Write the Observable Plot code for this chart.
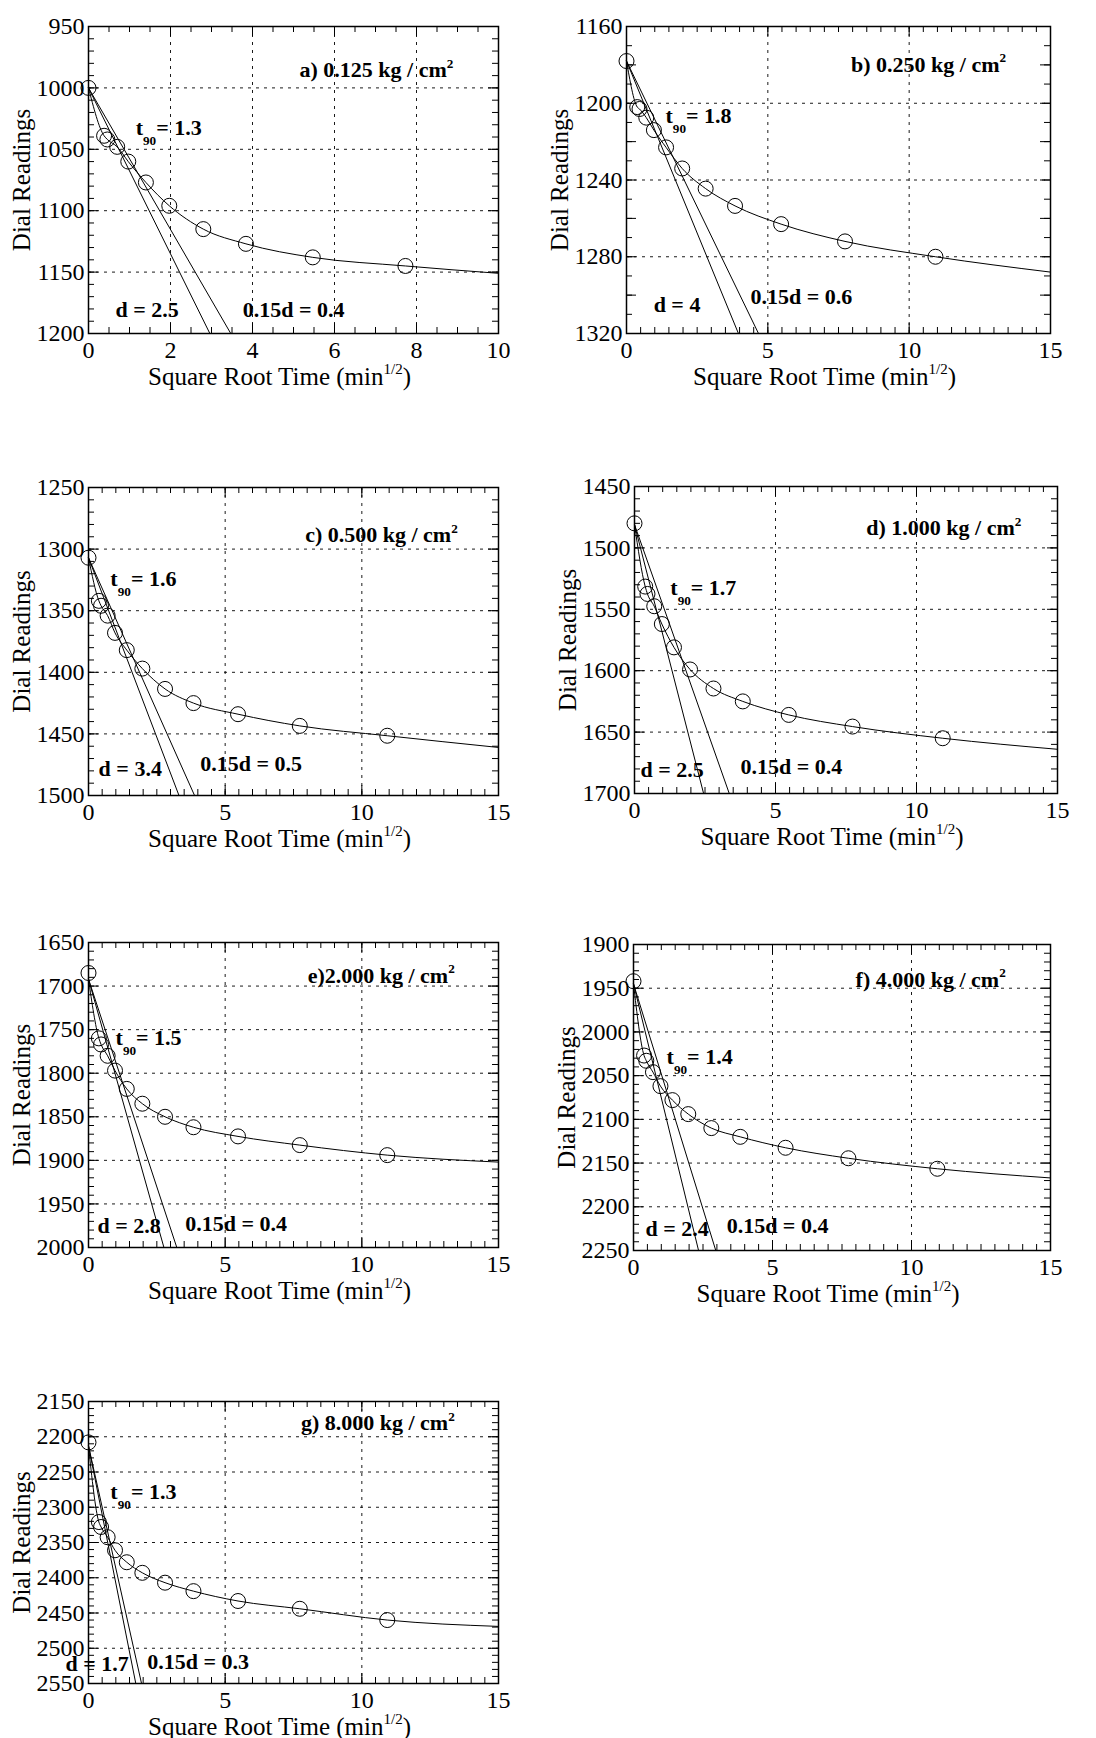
<!DOCTYPE html>
<html>
<head>
<meta charset="utf-8">
<script src="https://cdn.jsdelivr.net/npm/d3@7"></script>
<script src="https://cdn.jsdelivr.net/npm/@observablehq/plot@0.6"></script>
<style>
  body { margin: 0; background: #fff; }
  #sheet { position: relative; width: 1096px; height: 1738px; overflow: hidden; background: #fff; }
  #sheet svg { position: absolute; background: transparent; overflow: visible; }
</style>
</head>
<body>
<div id="sheet"></div>
<script>
// ---- Square-root-of-time consolidation readings, one panel per load step ----
const sqrtTime = [0, 0.38, 0.46, 0.7, 0.97, 1.4, 1.97, 2.8, 3.84, 5.47, 7.73, 10.93];

const readingsA = [1000, 1039, 1042, 1048, 1060, 1077, 1096, 1115, 1127, 1138, 1145];
const readingsB = [1178, 1202, 1203, 1207.5, 1214, 1223, 1234, 1244.5, 1253.5, 1263, 1272, 1280];
const readingsC = [1307, 1342, 1346, 1354, 1368, 1382, 1397, 1413.5, 1425, 1434, 1443.5, 1451.5];
const readingsD = [1480, 1531.5, 1537.5, 1547.5, 1562, 1581, 1599, 1614.5, 1625, 1636, 1645.5, 1655];
const readingsE = [1685, 1760, 1767, 1780, 1797, 1818, 1835, 1850, 1862, 1872.5, 1882.5, 1894];
const readingsF = [1942, 2027, 2033, 2046, 2062, 2078, 2094, 2110, 2120, 2132.5, 2144.5, 2156.5];
const readingsG = [2208, 2321, 2328, 2342.5, 2361, 2378, 2393, 2407, 2419, 2433, 2444, 2460];
const readingSets = [readingsA, readingsB, readingsC, readingsD, readingsE, readingsF, readingsG];

// panel captions
const panelTags = ["a)", "b)", "c)", "d)", "e)", "f)", "g)"];
const pressureLoad = ["0.125", "0.250", "0.500", "1.000", "2.000", "4.000", "8.000"];
const t90Value = ["1.3", "1.8", "1.6", "1.7", "1.5", "1.4", "1.3"];
const dValue = ["2.5", "4", "3.4", "2.5", "2.8", "2.4", "1.7"];
const dOffsetValue = ["0.4", "0.6", "0.5", "0.4", "0.4", "0.4", "0.3"];

// Taylor construction: corrected zero reading, and the sqrt-time where the
// initial tangent and the 1.15x line reach the bottom reading of each panel
const zeroReading = [1000, 1178, 1307, 1481, 1692, 1945, 2213];
const tangentX = [2.96, 3.96, 3.31, 2.45, 2.76, 2.34, 1.73];
const offsetX = [3.47, 4.67, 3.88, 3.36, 3.23, 2.96, 1.94];
// fitted curve value at the right edge of each panel
const curveEndReading = [1151, 1288, 1461, 1664, 1902, 2167, 2469];

// axis extents and tick spacing
const xMaxes = [10, 15, 15, 15, 15, 15, 15];
const xStep = [2, 5, 5, 5, 5, 5, 5];
const yTop = [950, 1160, 1250, 1450, 1650, 1900, 2150];
const yBottom = [1200, 1320, 1500, 1700, 2000, 2250, 2550];
const yStep = [50, 40, 50, 50, 50, 50, 50];

// ---- layout: plot frame rectangle of each panel on the sheet [left, top, width, height] ----
const frames = [
  [88, 26, 410, 307],
  [626, 26, 424, 307],
  [88, 487, 410, 308],
  [634, 486, 423, 307],
  [88, 942, 410, 305],
  [633, 944, 417, 306],
  [88, 1401, 410, 282]
];
// annotation placement in each panel's data units [x, y]
const titleAt = [[8.9, 985.4], [13.43, 1179.8], [13.51, 1288.9], [13.72, 1483.8], [13.40, 1687.9], [13.39, 1940], [13.40, 2180.5]];
const t90At = [[1.15, 1033], [1.38, 1206.8], [0.80, 1324.6], [1.27, 1532.6], [0.99, 1760], [1.19, 2029], [0.80, 2279]];
const dAt = [[0.66, 1180.5], [0.96, 1305], [0.37, 1478.7], [0.21, 1680.5], [0.33, 1974.8], [0.43, 2224.8], [-0.84, 2521.6]];
const dOffsetAt = [[3.76, 1180.5], [4.39, 1301], [4.09, 1474.7], [3.76, 1678], [3.54, 1972.5], [3.35, 2221.4], [2.15, 2520]];

const SERIF = "'Liberation Serif', 'Times New Roman', Times, serif";
const M = {left: 92, right: 40, top: 30, bottom: 72};
const MAJOR = 10, MINOR = 6;

// Turn "^{..}" and "_{..}" markers into raised / lowered tspans
function richify(svg) {
  const NS = "http://www.w3.org/2000/svg";
  for (const el of svg.querySelectorAll("text")) {
    const s = el.textContent;
    if (!/[\^_]\{/.test(s)) continue;
    const host = el.closest("[font-size]");
    const base = host ? parseFloat(host.getAttribute("font-size")) : 22;
    const parts = s.split(/([\^_]\{[^}]*\})/).filter(p => p !== "");
    el.textContent = "";
    let shift = 0;
    for (const p of parts) {
      const ts = document.createElementNS(NS, "tspan");
      let target = 0, txt = p;
      if (p.startsWith("^{")) {
        txt = p.slice(2, -1); target = -0.42 * base;
        ts.setAttribute("font-size", (0.6 * base).toFixed(1));
      } else if (p.startsWith("_{")) {
        txt = p.slice(2, -1); target = 0.45 * base;
        ts.setAttribute("font-size", (0.6 * base).toFixed(1));
      }
      const dy = target - shift;
      if (dy) ts.setAttribute("dy", dy.toFixed(1));
      shift = target;
      ts.textContent = txt;
      el.appendChild(ts);
    }
  }
}

function drawPanel(i) {
  const [fx, fy, fw, fh] = frames[i];
  const xMax = xMaxes[i], y0 = yTop[i], y1 = yBottom[i];
  const eps = 1e-9;
  const xMajor = d3.range(0, xMax + eps, xStep[i]);
  const xMinor = d3.range(0, xMax + eps, 0.5);
  const yMajor = d3.range(y0, y1 + eps, yStep[i]);
  const yMinor = d3.range(y0, y1 + eps, 10);
  const yMid = yStep[i] === 40 ? d3.range(y0 + 20, y1, 40) : [];
  const xGrid = xMajor.filter(v => v > 0 && v < xMax);
  const yGrid = yMajor.filter(v => v > y0 && v < y1);

  const readings = readingSets[i];
  const pts = readings.map((r, k) => ({x: sqrtTime[k], y: r}));
  const curve = [{x: 0, y: zeroReading[i]}, ...pts.slice(1), {x: xMax, y: curveEndReading[i]}];
  const tangent = [{x: 0, y: zeroReading[i]}, {x: tangentX[i], y: y1}];
  const offset = [{x: 0, y: zeroReading[i]}, {x: offsetX[i], y: y1}];

  const notes = [
    {x: titleAt[i][0], y: titleAt[i][1], anchor: "end",
     text: panelTags[i] + (i === 4 ? "" : " ") + pressureLoad[i] + " kg / cm^{2}"},
    {x: t90At[i][0], y: t90At[i][1], anchor: "start", text: "t_{90}= " + t90Value[i]},
    {x: dAt[i][0], y: dAt[i][1], anchor: "start", text: "d = " + dValue[i]},
    {x: dOffsetAt[i][0], y: dOffsetAt[i][1], anchor: "start", text: "0.15d = " + dOffsetValue[i]}
  ];

  const ink = {stroke: "black", strokeWidth: 1};
  const svg = Plot.plot({
    width: M.left + fw + M.right,
    height: M.top + fh + M.bottom,
    marginLeft: M.left, marginRight: M.right, marginTop: M.top, marginBottom: M.bottom,
    style: {background: "transparent", fontFamily: SERIF, fontSize: "24px", color: "black", overflow: "visible"},
    x: {domain: [0, xMax]},
    y: {domain: [y1, y0]},
    marks: [
      // dashed grid at interior major ticks
      Plot.ruleX(xGrid, {stroke: "black", strokeWidth: 0.9, strokeDasharray: "3,5"}),
      Plot.ruleY(yGrid, {stroke: "black", strokeWidth: 0.9, strokeDasharray: "3,5"}),
      // inward ticks on all four sides
      Plot.ruleX(xMinor, {...ink, insetTop: fh - MINOR}),
      Plot.ruleX(xMinor, {...ink, insetBottom: fh - MINOR}),
      Plot.ruleX(xMajor, {...ink, insetTop: fh - MAJOR}),
      Plot.ruleX(xMajor, {...ink, insetBottom: fh - MAJOR}),
      Plot.ruleY(yMinor, {...ink, insetRight: fw - MINOR}),
      Plot.ruleY(yMinor, {...ink, insetLeft: fw - MINOR}),
      Plot.ruleY([...yMajor, ...yMid], {...ink, insetRight: fw - MAJOR}),
      Plot.ruleY([...yMajor, ...yMid], {...ink, insetLeft: fw - MAJOR}),
      Plot.axisX({ticks: xMajor, tickSize: 0, tickPadding: 7, tickFormat: d => String(d), label: null, anchor: "bottom"}),
      Plot.axisY({ticks: yMajor, tickSize: 0, tickPadding: 4, tickFormat: d => String(d), label: null, anchor: "left"}),
      Plot.frame({stroke: "black", strokeWidth: 1.5}),
      // construction lines and fitted curve
      Plot.line(tangent, {x: "x", y: "y", ...ink}),
      Plot.line(offset, {x: "x", y: "y", ...ink}),
      Plot.line(curve, {x: "x", y: "y", ...ink, curve: "monotone-x"}),
      Plot.dot(pts, {x: "x", y: "y", r: 7.5, stroke: "black", strokeWidth: 1, fill: "none"}),
      // annotations
      Plot.text(notes.filter(n => n.anchor === "end"), {x: "x", y: "y", text: "text", textAnchor: "end",
        lineAnchor: "middle", fontWeight: "bold", fontSize: 22, fontFamily: SERIF, fill: "black"}),
      Plot.text(notes.filter(n => n.anchor === "start"), {x: "x", y: "y", text: "text", textAnchor: "start",
        lineAnchor: "middle", fontWeight: "bold", fontSize: 22, fontFamily: SERIF, fill: "black"}),
      // axis titles
      Plot.text(["Square Root Time (min^{1/2})"], {text: d => d, frameAnchor: "bottom", textAnchor: "middle",
        lineAnchor: "middle", dy: 43, dx: -14, fontSize: 25, fontFamily: SERIF, fill: "black"}),
      Plot.text(["Dial Readings"], {text: d => d, frameAnchor: "left", rotate: -90, textAnchor: "middle",
        lineAnchor: "middle", dx: -67, fontSize: 25, fontFamily: SERIF, fill: "black"})
    ]
  });
  richify(svg);
  svg.style.left = (fx - M.left) + "px";
  svg.style.top = (fy - M.top) + "px";
  document.getElementById("sheet").appendChild(svg);
}

for (let i = 0; i < frames.length; ++i) drawPanel(i);
</script>
</body>
</html>
